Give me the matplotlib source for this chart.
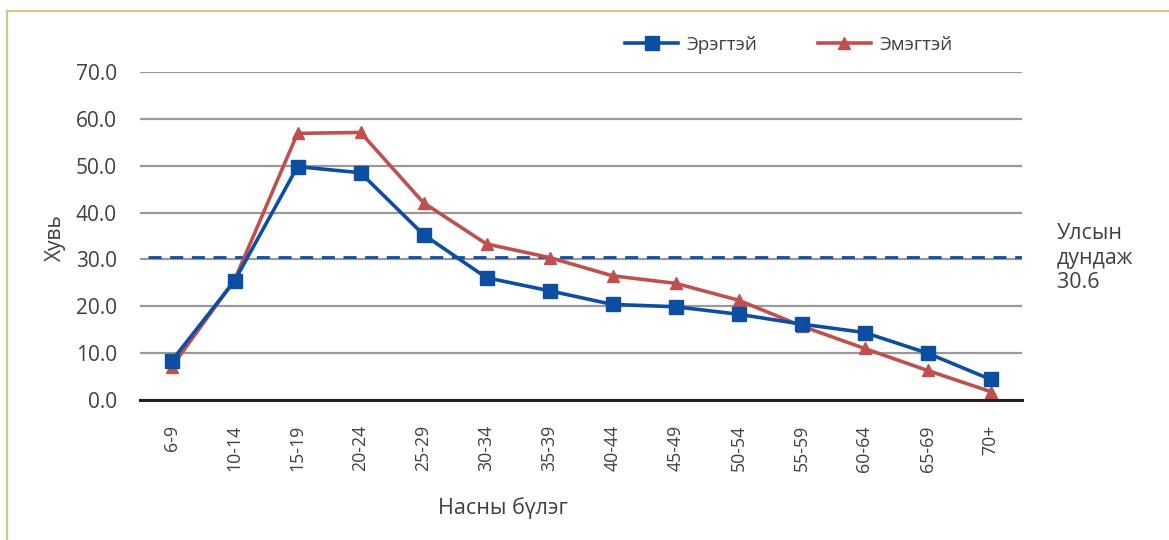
import matplotlib
matplotlib.use("Agg")
import matplotlib.pyplot as plt
from matplotlib.lines import Line2D

plt.rcParams['font.family'] = ['Open Sans', 'DejaVu Sans']

age_groups = ['6-9', '10-14', '15-19', '20-24', '25-29', '30-34', '35-39',
              '40-44', '45-49', '50-54', '55-59', '60-64', '65-69', '70+']
male = [8.3, 25.4, 49.8, 48.5, 35.3, 26.1, 23.3, 20.4, 19.9, 18.3, 16.2, 14.4, 10.0, 4.4]
female = [7.0, 25.6, 56.9, 57.1, 42.1, 33.3, 30.4, 26.5, 24.9, 21.3, 15.8, 11.0, 6.3, 1.8]
national_avg = 30.6
yticks = [0, 10, 20, 30, 40, 50, 60, 70]

blue = '#0b4ea2'
red = '#c0504d'
text_col = '#404040'

W, H = 1169, 540
fig = plt.figure(figsize=(W / 100, H / 100), dpi=100)
ax = fig.add_axes([140 / W, 1 - 400 / H, 882 / W, 328 / H])

x = list(range(len(age_groups)))
ax.plot(x, male, color=blue, lw=2.6, marker='s', markersize=10, label='Эрэгтэй', zorder=4)
ax.plot(x, female, color=red, lw=2.6, marker='^', markersize=9, label='Эмэгтэй', zorder=3)
ax.plot([-0.38, len(age_groups) - 0.5], [national_avg, national_avg], color=blue,
        lw=2.0, dashes=(4.7, 3.1), zorder=2)

ax.set_xlim(-0.5, len(age_groups) - 0.5)
ax.set_ylim(0, 70)
ax.set_yticks(yticks)
ax.set_yticklabels(['%.1f' % v for v in yticks])
ax.set_xticks(x)
ax.set_xticklabels(age_groups, rotation=90)
ax.tick_params(axis='both', length=0, colors=text_col)
ax.tick_params(axis='x', pad=18, labelsize=12.8)
ax.tick_params(axis='y', pad=16.5, labelsize=15)
ax.grid(axis='y', color='#999999', lw=1.6)
ax.set_axisbelow(True)
for s in ['top', 'right', 'left']:
    ax.spines[s].set_visible(False)
ax.spines['bottom'].set_color('#231f20')
ax.spines['bottom'].set_linewidth(2.2)
ax.spines['bottom'].set_zorder(5)

# axis titles placed where the reference has them
fig.text(55 / W, 1 - 238 / H, 'Хувь', fontsize=15, color=text_col,
         rotation=90, ha='center', va='center')
fig.text(503 / W, 1 - 508 / H, 'Насны бүлэг', fontsize=15.5, color=text_col,
         ha='center', va='center')

fig.text(1057 / W, 1 - 258 / H, 'Улсын\nдундаж\n30.6', fontsize=15.4,
         color=text_col, va='center', ha='left', linespacing=1.2)

fig.legend(loc='center', bbox_to_anchor=(789 / W, 1 - 45 / H), ncol=2,
           frameon=False, fontsize=13.6, handlelength=2.8, columnspacing=3.2,
           handletextpad=0.45, labelcolor=text_col)

# frame lines at top and left
frame_col = '#d8c393'
fig.add_artist(Line2D([6.5 / W, 1.0], [1 - 10.5 / H, 1 - 10.5 / H], color=frame_col, lw=1.6))
fig.add_artist(Line2D([6.5 / W, 6.5 / W], [0, 1 - 10.5 / H], color=frame_col, lw=1.6))

fig.savefig('out.png', dpi=100)
